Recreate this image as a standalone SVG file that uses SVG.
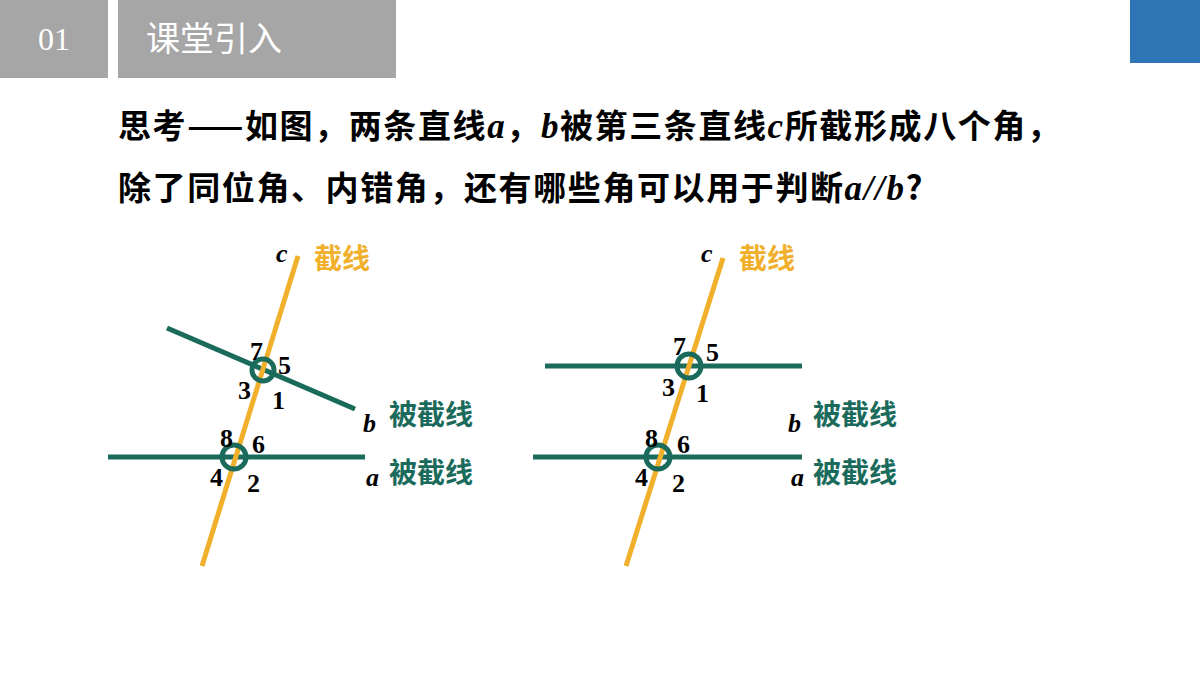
<svg xmlns="http://www.w3.org/2000/svg" width="1200" height="675" viewBox="0 0 1200 675">
<style>
.cj{font-family:"Noto Sans CJK SC","Liberation Sans",sans-serif;font-weight:bold}
.it{font-family:"Liberation Serif",serif;font-style:italic;font-weight:bold;font-size:26px}
.q{font-family:"Liberation Serif",serif;font-style:italic;font-weight:bold;font-size:35px}
.n{font-family:"Liberation Serif",serif;font-weight:bold;font-size:26px;fill:#000}
.y{stroke:#F0B02C;stroke-width:5;fill:none}
.g{stroke:#1A6B5C;stroke-width:5;fill:none}
.gc{stroke:#1A6B5C;stroke-width:5;fill:none}
.lab{font-size:28px;fill:#1A6B5C}
.lab2{font-size:28px;fill:#F0B02C}
</style>
<rect width="1200" height="675" fill="#fff"/>
<g id="header">
<rect x="0" y="0" width="108" height="78" fill="#A6A6A6"/>
<text x="54" y="50" font-family="Liberation Serif,serif" font-size="32" fill="#fff" text-anchor="middle">01</text>
<rect x="118" y="0" width="278" height="78" fill="#A6A6A6"/>
<text x="146" y="51" font-family="Noto Sans CJK SC,sans-serif" font-size="34" fill="#fff">课堂引入</text>
<rect x="1130" y="0" width="70" height="63" fill="#2E75B6"/>
</g>
<g id="question" class="cj" font-size="33" fill="#000" letter-spacing="1.6">
<text x="118" y="138">思考——如图，两条直线<tspan class="q">a</tspan>，<tspan class="q">b</tspan>被第三条直线<tspan class="q">c</tspan>所截形成八个角，</text>
<text x="118" y="200">除了同位角、内错角，还有哪些角可以用于判断<tspan class="q">a</tspan><tspan class="q" font-weight="normal">//</tspan><tspan class="q">b</tspan>?</text>
</g>
<g id="connectors">
<line class="g" x1="167" y1="328" x2="355" y2="409"/>
<line class="g" x1="108" y1="457" x2="365" y2="457"/>
<line class="y" x1="298" y1="256" x2="202" y2="566"/>
<circle class="gc" cx="263" cy="370" r="11"/>
<circle class="gc" cx="234" cy="457" r="12"/>
<line class="g" x1="545" y1="366" x2="802" y2="366"/>
<line class="g" x1="533" y1="457" x2="802" y2="457"/>
<line class="y" x1="723" y1="258" x2="626" y2="566"/>
<circle class="gc" cx="689" cy="366" r="12"/>
<circle class="gc" cx="658" cy="457" r="12"/>
</g>
<g id="fig1">
<text class="it" x="276" y="262">c</text>
<text class="cj lab2" x="314" y="269">截线</text>
<text class="it" x="363" y="432">b</text>
<text class="cj lab" x="389" y="425">被截线</text>
<text class="it" x="366" y="486">a</text>
<text class="cj lab" x="389" y="483">被截线</text>
<text class="n" x="250" y="360">7</text><text class="n" x="278" y="374">5</text>
<text class="n" x="238" y="399">3</text><text class="n" x="272" y="409">1</text>
<text class="n" x="220" y="447">8</text><text class="n" x="252" y="453">6</text>
<text class="n" x="210" y="486">4</text><text class="n" x="247" y="492">2</text>
</g>
<g id="fig2">
<text class="it" x="701" y="262">c</text>
<text class="cj lab2" x="739" y="269">截线</text>
<text class="it" x="788" y="432">b</text>
<text class="cj lab" x="813" y="425">被截线</text>
<text class="it" x="791" y="486">a</text>
<text class="cj lab" x="813" y="483">被截线</text>
<text class="n" x="673" y="355">7</text><text class="n" x="706" y="361">5</text>
<text class="n" x="662" y="396">3</text><text class="n" x="696" y="402">1</text>
<text class="n" x="645" y="447">8</text><text class="n" x="677" y="453">6</text>
<text class="n" x="635" y="486">4</text><text class="n" x="672" y="492">2</text>
</g>
</svg>
